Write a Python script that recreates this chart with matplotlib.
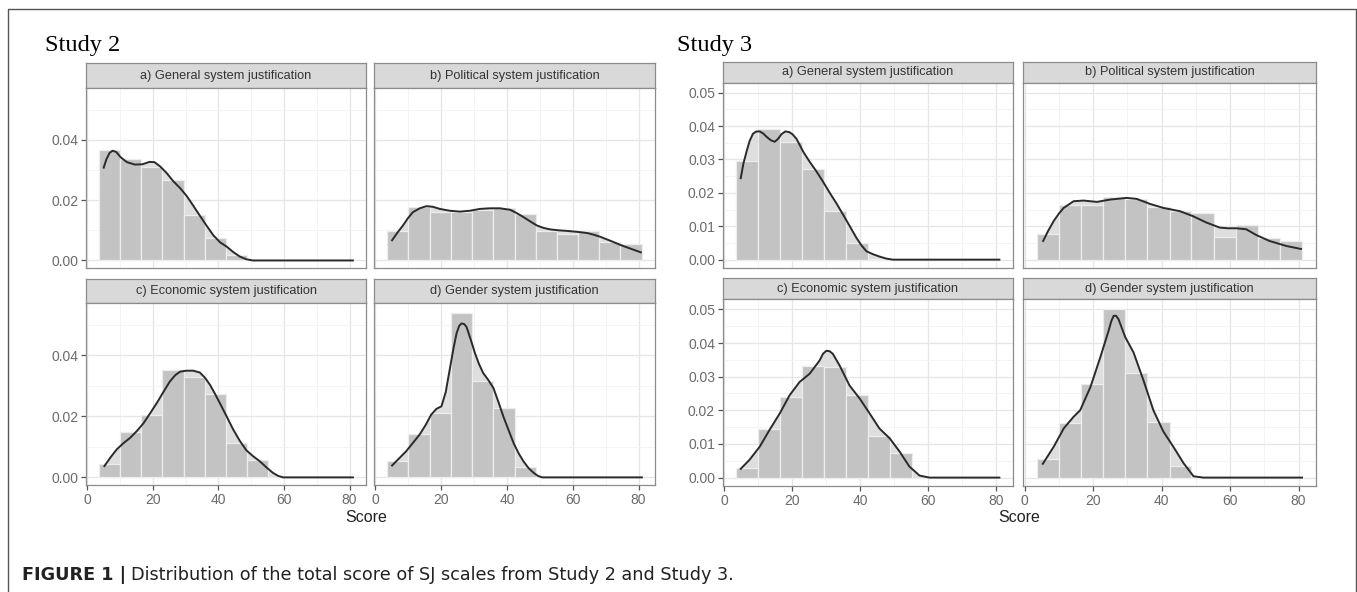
import numpy as np
import matplotlib
matplotlib.use("Agg")
import matplotlib.pyplot as plt
from matplotlib.lines import Line2D

plt.rcParams['font.family'] = ['Liberation Sans', 'DejaVu Sans']

# ---- data ----
bin_edges = [3.6, 10.05, 16.5, 22.9, 29.4, 35.85, 42.3, 48.7, 55.2, 61.6, 68.1, 74.5, 81.0]

facet_titles = ["a) General system justification", "b) Political system justification",
                "c) Economic system justification", "d) Gender system justification"]

# Study 2
s2_general_bars = [0.0367, 0.0337, 0.0309, 0.0266, 0.0150, 0.0074, 0.0017, 0, 0, 0, 0, 0]
s2_general_dx = [5.0, 5.8, 6.8, 7.7, 8.8, 10.2, 12.1, 14.5, 16.8, 19.0, 20.5, 22.2, 24.2, 26.2,
                 28.3, 30.3, 32.3, 34.3, 36.4, 38.4, 40.5, 42.5, 44.5, 46.5, 48.5, 50.5, 81.0]
s2_general_dy = [0.0308, 0.0335, 0.0357, 0.0364, 0.0360, 0.0342, 0.0326, 0.0318, 0.0319, 0.0327,
                 0.0326, 0.0312, 0.0290, 0.0263, 0.0240, 0.0214, 0.0182, 0.0149, 0.0115, 0.0084,
                 0.0060, 0.0046, 0.0028, 0.0013, 0.0004, 0.0, 0.0]

s2_political_bars = [0.0099, 0.0176, 0.0162, 0.0160, 0.0168, 0.0173, 0.0153, 0.0099, 0.0087,
                     0.0099, 0.0061, 0.0053]
s2_political_dx = [5.1, 6.7, 8.4, 9.9, 11.4, 13.5, 15.5, 17.5, 19.6, 22.6, 25.7, 28.8, 31.8, 34.8,
                   37.9, 41.0, 43.0, 45.0, 47.0, 49.1, 51.1, 53.2, 55.7, 58.3, 61.3, 64.4, 66.5,
                   68.5, 71.5, 74.6, 77.6, 80.7]
s2_political_dy = [0.0067, 0.0092, 0.0116, 0.0140, 0.0160, 0.0173, 0.0180, 0.0178, 0.0171, 0.0165,
                   0.0162, 0.0165, 0.0171, 0.0173, 0.0173, 0.0168, 0.0157, 0.0144, 0.0130, 0.0116,
                   0.0108, 0.0103, 0.0100, 0.0098, 0.0095, 0.0091, 0.0085, 0.0078, 0.0065, 0.0051,
                   0.0039, 0.0027]

s2_economic_bars = [0.0045, 0.0148, 0.0204, 0.0353, 0.0329, 0.0274, 0.0113, 0.0056, 0, 0, 0, 0]
s2_economic_dx = [5.2, 7.1, 9.0, 11.0, 13.1, 15.1, 17.1, 19.2, 21.2, 23.2, 25.2, 26.8, 28.3, 30.3,
                  32.3, 34.3, 35.8, 37.4, 38.9, 40.4, 42.5, 44.5, 46.5, 48.5, 50.5, 52.6, 54.6,
                  56.6, 58.2, 59.7, 81.0]
s2_economic_dy = [0.0037, 0.0066, 0.0092, 0.0112, 0.0130, 0.0152, 0.0177, 0.0211, 0.0244, 0.0280,
                  0.0315, 0.0335, 0.0347, 0.0350, 0.0350, 0.0344, 0.0328, 0.0304, 0.0275, 0.0244,
                  0.0200, 0.0157, 0.0120, 0.0089, 0.0070, 0.0053, 0.0033, 0.0015, 0.0005, 0.0, 0.0]

s2_gender_bars = [0.0053, 0.0141, 0.0211, 0.0540, 0.0317, 0.0227, 0.0033, 0, 0, 0, 0, 0]
s2_gender_dx = [5.1, 7.2, 9.4, 11.5, 13.5, 15.3, 17.0, 18.6, 20.1, 21.4, 22.6, 23.7, 24.7, 25.5,
                26.2, 27.0, 27.7, 29.0, 30.3, 31.5, 32.8, 34.3, 35.9, 37.4, 38.9, 40.5, 42.0, 43.5,
                45.0, 46.6, 48.1, 49.4, 50.7, 81.0]
s2_gender_dy = [0.0039, 0.0062, 0.0086, 0.0114, 0.0141, 0.0172, 0.0206, 0.0225, 0.0233, 0.0280,
                0.0353, 0.0420, 0.0473, 0.0497, 0.0505, 0.0503, 0.0494, 0.0452, 0.0407, 0.0372,
                0.0342, 0.0320, 0.0293, 0.0248, 0.0200, 0.0155, 0.0113, 0.0080, 0.0053, 0.0030,
                0.0015, 0.0005, 0.0, 0.0]

# Study 3
s3_general_bars = [0.0296, 0.0392, 0.0353, 0.0272, 0.0147, 0.0051, 0.0003, 0, 0, 0, 0, 0]
s3_general_dx = [4.9, 5.7, 6.6, 7.5, 8.5, 9.5, 10.5, 11.5, 12.5, 13.7, 14.9, 15.9, 16.9, 18.0,
                 19.2, 20.2, 21.3, 23.3, 25.2, 27.2, 29.2, 31.1, 33.1, 35.0, 37.0, 38.9, 40.4,
                 41.9, 43.9, 45.8, 47.8, 49.7, 81.0]
s3_general_dy = [0.0244, 0.0288, 0.0323, 0.0355, 0.0377, 0.0384, 0.0384, 0.0378, 0.0368, 0.0358,
                 0.0353, 0.0362, 0.0376, 0.0384, 0.0382, 0.0375, 0.0362, 0.0323, 0.0293, 0.0264,
                 0.0232, 0.0200, 0.0168, 0.0135, 0.0100, 0.0066, 0.0043, 0.0025, 0.0016, 0.0009,
                 0.0003, 0.0, 0.0]

s3_political_bars = [0.0078, 0.0165, 0.0163, 0.0187, 0.0182, 0.0157, 0.0145, 0.0140, 0.0069,
                     0.0104, 0.0064, 0.0056]
s3_political_dx = [5.4, 6.9, 8.5, 10.0, 11.4, 14.3, 17.2, 21.1, 25.0, 29.8, 32.7, 36.6, 40.5, 45.4,
                   49.2, 53.1, 57.0, 59.4, 61.8, 64.7, 67.6, 71.5, 76.4, 80.7]
s3_political_dy = [0.0056, 0.0087, 0.0116, 0.0138, 0.0155, 0.0175, 0.0177, 0.0173, 0.0180, 0.0185,
                   0.0182, 0.0167, 0.0155, 0.0145, 0.0130, 0.0111, 0.0096, 0.0094, 0.0094, 0.0091,
                   0.0074, 0.0056, 0.0041, 0.0032]

s3_economic_bars = [0.0029, 0.0143, 0.0240, 0.0331, 0.0328, 0.0247, 0.0124, 0.0073, 0, 0, 0, 0]
s3_economic_dx = [4.9, 7.5, 10.5, 13.4, 16.4, 19.3, 22.2, 25.2, 28.1, 29.1, 30.1, 31.0, 32.0, 34.0,
                  36.9, 39.9, 42.8, 45.7, 48.7, 51.6, 54.5, 57.5, 60.4, 81.0]
s3_economic_dy = [0.0026, 0.0053, 0.0092, 0.0142, 0.0191, 0.0245, 0.0284, 0.0309, 0.0348, 0.0368,
                  0.0377, 0.0376, 0.0368, 0.0333, 0.0274, 0.0235, 0.0191, 0.0146, 0.0117, 0.0078,
                  0.0033, 0.0006, 0.0, 0.0]

s3_gender_bars = [0.0056, 0.0161, 0.0279, 0.0502, 0.0311, 0.0164, 0.0035, 0, 0, 0, 0, 0]
s3_gender_dx = [5.3, 8.5, 11.4, 14.3, 16.2, 19.2, 22.1, 24.5, 25.3, 26.0, 26.7, 27.4, 29.4, 31.8,
                34.7, 37.6, 40.5, 43.4, 46.4, 49.3, 52.2, 81.0]
s3_gender_dy = [0.0041, 0.0092, 0.0146, 0.0181, 0.0200, 0.0269, 0.0358, 0.0436, 0.0465, 0.0481,
                0.0481, 0.0471, 0.0417, 0.0372, 0.0289, 0.0200, 0.0137, 0.0092, 0.0043, 0.0004,
                0.0, 0.0]

x_major = [0, 20, 40, 60, 80]
x_minor = [10, 30, 50, 70]

studies = [
    dict(name="Study 2", title_x=45, score_x=366,
         cols=[(86, 366), (374, 655)],
         rows=[(63, 88, 268), (279, 303, 485)],
         ylim=(-0.0025, 0.0572),
         yticks=[0.0, 0.02, 0.04], yminor=[0.01, 0.03, 0.05],
         panels=[(s2_general_bars, s2_general_dx, s2_general_dy),
                 (s2_political_bars, s2_political_dx, s2_political_dy),
                 (s2_economic_bars, s2_economic_dx, s2_economic_dy),
                 (s2_gender_bars, s2_gender_dx, s2_gender_dy)]),
    dict(name="Study 3", title_x=677, score_x=1019,
         cols=[(722.7, 1013), (1023.3, 1315.7)],
         rows=[(61.7, 82.7, 268), (278.3, 299.3, 486)],
         ylim=(-0.0025, 0.053),
         yticks=[0.0, 0.01, 0.02, 0.03, 0.04, 0.05],
         yminor=[0.005, 0.015, 0.025, 0.035, 0.045],
         panels=[(s3_general_bars, s3_general_dx, s3_general_dy),
                 (s3_political_bars, s3_political_dx, s3_political_dy),
                 (s3_economic_bars, s3_economic_dx, s3_economic_dy),
                 (s3_gender_bars, s3_gender_dx, s3_gender_dy)]),
]

W, H = 1357, 592
fig = plt.figure(figsize=(W / 100, H / 100), dpi=100)


def rect(x0, y0, x1, y1):
    return [x0 / W, 1 - y1 / H, (x1 - x0) / W, (y1 - y0) / H]


border = '#8c8c8c'
edges = np.array(bin_edges)

for st in studies:
    for k, (bars, dx, dy) in enumerate(st['panels']):
        r, c = divmod(k, 2)
        x0, x1 = st['cols'][c]
        s0, p0, p1 = st['rows'][r]

        # strip
        sax = fig.add_axes(rect(x0, s0, x1, p0))
        sax.set_facecolor('#d9d9d9')
        sax.set_xticks([])
        sax.set_yticks([])
        for sp in sax.spines.values():
            sp.set_color(border)
            sp.set_linewidth(0.9)
        sax.text(0.5, 0.5, facet_titles[k], ha='center', va='center',
                 fontsize=9.2, color='#333333', transform=sax.transAxes)

        ax = fig.add_axes(rect(x0, p0, x1, p1))
        ax.set_xlim(-0.4, 85)
        ax.set_ylim(*st['ylim'])
        ax.set_xticks(x_major)
        ax.set_xticks(x_minor, minor=True)
        ax.set_yticks(st['yticks'])
        ax.set_yticks(st['yminor'], minor=True)
        ax.set_yticklabels(['%.2f' % v for v in st['yticks']])
        ax.grid(which='major', color='#e6e6e6', lw=0.9)
        ax.grid(which='minor', color='#f2f2f2', lw=0.6)
        ax.set_axisbelow(True)

        ax.fill_between(dx, dy, color='#dedede', lw=0, zorder=1)
        ax.bar(edges[:-1], bars, width=np.diff(edges), align='edge',
               color='#c3c3c3', edgecolor='#ededed', lw=0.9, zorder=2)
        ax.plot(dx, dy, color='#2a2a2a', lw=1.4, zorder=3)

        for sp in ax.spines.values():
            sp.set_color(border)
            sp.set_linewidth(0.9)
        ax.tick_params(which='minor', length=0)
        ax.tick_params(which='major', length=3.5, width=0.9, color='#555555',
                       labelsize=10, labelcolor='#6b6b6b', pad=2)
        if c == 1:
            ax.tick_params(axis='y', length=0, labelleft=False)
        if r == 0:
            ax.tick_params(axis='x', length=0, labelbottom=False)

    fig.text(st['title_x'] / W, 1 - 45 / H, st['name'], family='Liberation Serif',
             fontsize=17.5, ha='left', va='center')
    fig.text(st['score_x'] / W, 1 - 517 / H, 'Score', fontsize=11.5, color='#222222',
             ha='center', va='center')

# outer frame
fig.add_artist(Line2D([7.5 / W, 7.5 / W, 1356 / W, 1356 / W],
                      [0, 1 - 9 / H, 1 - 9 / H, 0], color='#555555', lw=1.0))

# caption
bold = fig.text(22 / W, 1 - 580 / H, 'FIGURE 1 |', fontsize=12.7, fontweight='bold',
                family='DejaVu Sans', color='#222222', va='baseline')
renderer = fig.canvas.get_renderer()
bb = bold.get_window_extent(renderer)
fig.text((bb.x1 + 5) / W, 1 - 580 / H,
         'Distribution of the total score of SJ scales from Study 2 and Study 3.',
         fontsize=12.7, family='DejaVu Sans', color='#222222', va='baseline')

fig.savefig('out.png', dpi=100)
